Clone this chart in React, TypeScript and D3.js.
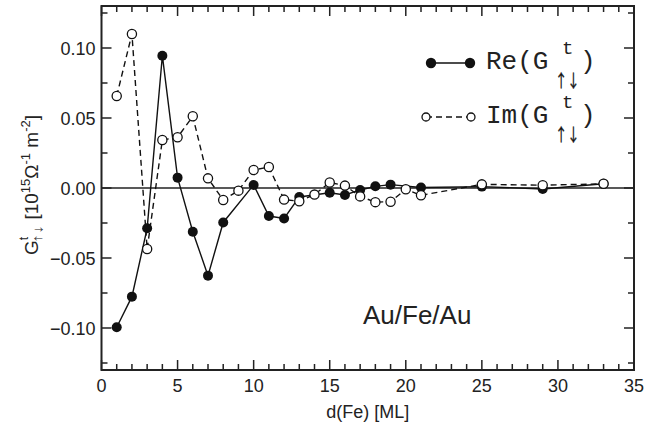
import React from 'react';
import * as d3 from 'd3';

// Re and Im of the spin-mixing conductance vs Fe thickness
const reX = [1, 2, 3, 4, 5, 6, 7, 8, 10, 11, 12, 13, 15, 16, 17, 18, 19, 21, 25, 29, 33];
const reY = [-0.0995, -0.0776, -0.0288, 0.0945, 0.0074, -0.0312, -0.0626, -0.0246, 0.0022, -0.02, -0.0218, -0.0064, -0.0034, -0.005, -0.0014, 0.0012, 0.0024, 0.0004, 0.001, -0.0007, 0.003];
const imX = [1, 2, 3, 4, 5, 6, 7, 8, 9, 10, 11, 12, 13, 14, 15, 16, 17, 18, 19, 20, 21, 25, 29, 33];
const imY = [0.0657, 0.11, -0.0436, 0.0343, 0.0362, 0.0512, 0.0069, -0.0086, -0.0019, 0.0129, 0.015, -0.0083, -0.0095, -0.0047, 0.0039, 0.0017, -0.006, -0.0101, -0.0098, -0.0009, -0.0052, 0.0026, 0.002, 0.003];

const xTicks = [0, 5, 10, 15, 20, 25, 30, 35];
const yTicks = [-0.1, -0.05, 0, 0.05, 0.1];
const legendNames = ['Re', 'Im'];
const arrows = '\u2191\u2193';

const W = 645;
const H = 431;
const margin = { top: 6, right: 11, bottom: 61, left: 101.5 };

const App = () => {
  const x = d3.scaleLinear().domain([0, 35]).range([margin.left, W - margin.right]);
  const y = d3.scaleLinear().domain([-0.13, 0.13]).range([H - margin.bottom, margin.top]);

  const x0 = x(0), x1 = x(35), y0 = y(-0.13), y1 = y(0.13);

  const line = d3.line<[number, number]>()
    .x(d => x(d[0]))
    .y(d => y(d[1]));

  const rePts: [number, number][] = reX.map((v, i) => [v, reY[i]]);
  const imPts: [number, number][] = imX.map((v, i) => [v, imY[i]]);

  const xMinor = d3.range(0, 36, 1);
  const yMinor = d3.range(-0.125, 0.13, 0.025);

  const font = 'Liberation Sans, Arial, Helvetica, sans-serif';
  const mono = 'Liberation Mono, Courier New, monospace';
  const arrowFont = 'Noto Sans CJK JP';

  const ticks: JSX.Element[] = [];
  xMinor.forEach((t, i) => {
    const len = t % 5 === 0 ? 10 : 6;
    ticks.push(<line key={'xb' + i} x1={x(t)} x2={x(t)} y1={y0} y2={y0 - len} />);
    ticks.push(<line key={'xt' + i} x1={x(t)} x2={x(t)} y1={y1} y2={y1 + len} />);
  });
  yMinor.forEach((t, i) => {
    const isMajor = Math.abs(Math.round(t / 0.05) * 0.05 - t) < 1e-6;
    const len = isMajor ? 10 : 6;
    ticks.push(<line key={'yl' + i} x1={x0} x2={x0 + len} y1={y(t)} y2={y(t)} />);
    ticks.push(<line key={'yr' + i} x1={x1} x2={x1 - len} y1={y(t)} y2={y(t)} />);
  });

  const legX1 = 431, legX2 = 470;
  const legRows = [63, 117];

  return (
    <svg width={W} height={H} style={{ position: 'absolute', left: 0, top: 0 }}>
      <rect x={0} y={0} width={W} height={H} fill="#fff" />

      {/* zero line */}
      <line x1={x0} x2={x1} y1={y(0)} y2={y(0)} stroke="#222" strokeWidth={1.5} />

      {/* lines */}
      <path d={line(imPts) || ''} fill="none" stroke="#111" strokeWidth={1.4} strokeDasharray="6,4" />
      <path d={line(rePts) || ''} fill="none" stroke="#111" strokeWidth={1.4} />

      {rePts.map((d, i) => (
        <circle key={'r' + i} cx={x(d[0])} cy={y(d[1])} r={5} fill="#111" />
      ))}
      {imPts.map((d, i) => (
        <circle key={'m' + i} cx={x(d[0])} cy={y(d[1])} r={4.6} fill="#fff" stroke="#111" strokeWidth={1.3} />
      ))}

      {/* frame and ticks */}
      <g stroke="#222" strokeWidth={1.5}>{ticks}</g>
      <rect x={x0} y={y1} width={x1 - x0} height={y0 - y1} fill="none" stroke="#222" strokeWidth={2} />

      {/* tick labels */}
      <g fontFamily={font} fontSize={18} fill="#222">
        {xTicks.map(t => (
          <text key={'xl' + t} x={x(t)} y={y0 + 22} textAnchor="middle">{t}</text>
        ))}
        {yTicks.map(t => (
          <text key={'yl' + t} x={x0 - 6} y={y(t) + 6.5} textAnchor="end">{d3.format('.2f')(t)}</text>
        ))}
      </g>

      {/* axis titles */}
      <text x={(x0 + x1) / 2} y={418} textAnchor="middle" fontFamily={font} fontSize={18} fill="#222">d(Fe) [ML]</text>
      <text transform={`translate(38,${(y0 + y1) / 2 - 3}) rotate(-90)`} textAnchor="middle" fontFamily={font} fontSize={19} fill="#222" opacity={0.99}>
        <tspan>G</tspan>
        <tspan fontSize={12} dy={-10}>t</tspan>
        <tspan fontSize={9} fontFamily={arrowFont} dx={-6} dy={14}>{arrows}</tspan>
        <tspan dy={-4}> [10</tspan>
        <tspan fontSize={13} dy={-8}>15</tspan>
        <tspan dy={8}>Ω</tspan>
        <tspan fontSize={13} dy={-8}>-1</tspan>
        <tspan dy={8}> m</tspan>
        <tspan fontSize={13} dy={-8}>-2</tspan>
        <tspan dy={8}>]</tspan>
      </text>

      {/* legend */}
      <line x1={legX1} x2={legX2} y1={legRows[0]} y2={legRows[0]} stroke="#111" strokeWidth={1.4} />
      <circle cx={legX1} cy={legRows[0]} r={5.2} fill="#111" />
      <circle cx={legX2} cy={legRows[0]} r={5.2} fill="#111" />
      <line x1={legX1 - 5} x2={legX2 + 1} y1={legRows[1]} y2={legRows[1]} stroke="#111" strokeWidth={1.4} strokeDasharray="6,4" />
      <circle cx={legX1 - 5} cy={legRows[1]} r={4} fill="#fff" stroke="#111" strokeWidth={1.3} />
      <circle cx={legX2 + 1} cy={legRows[1]} r={4} fill="#fff" stroke="#111" strokeWidth={1.3} />

      {legendNames.map((name, i) => {
        const base = legRows[i] + 6;
        return (
          <g key={name} fill="#222">
            <text x={486} y={base} fontFamily={mono} fontSize={26}>{name + '(G'}</text>
            <text x={562} y={base - 15} fontFamily={mono} fontSize={19}>t</text>
            <text transform={`translate(555,${base + 18}) scale(0.95,1.35)`} fontFamily={arrowFont} fontSize={13} fill="#111" stroke="#111" strokeWidth={0.3} opacity={0.99}>{arrows}</text>
            <text x={580} y={base} fontFamily={mono} fontSize={26}>)</text>
          </g>
        );
      })}

      <text x={363} y={324} fontFamily={font} fontSize={26} fill="#222">Au/Fe/Au</text>
    </svg>
  );
};

export default App;
